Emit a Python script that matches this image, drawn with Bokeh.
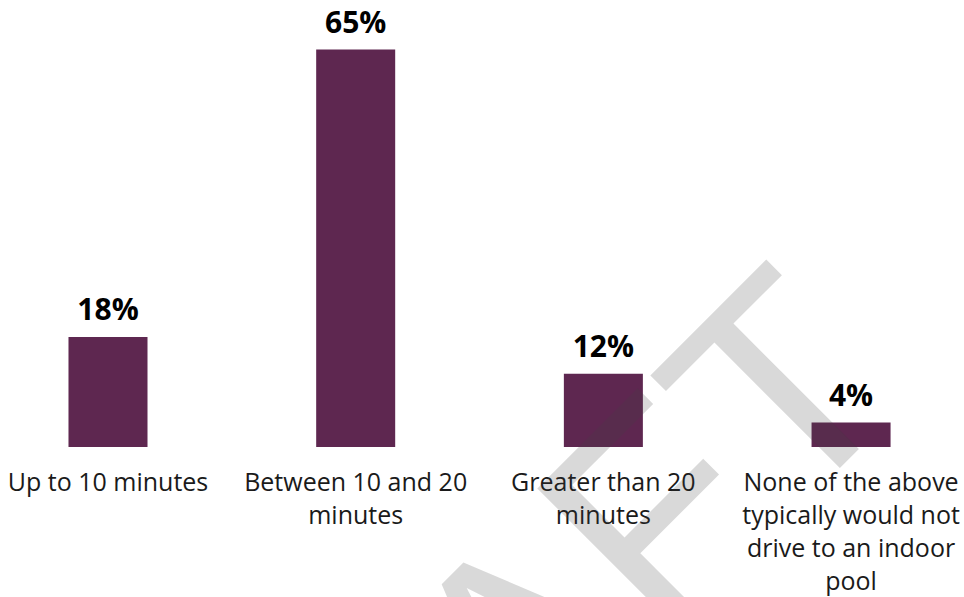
from bokeh.plotting import figure
from bokeh.models import ColumnDataSource, Range1d, Label
from bokeh.core.properties import value
from bokeh.embed import file_html
from bokeh.resources import INLINE

categories = [
    "Up to 10 minutes",
    "Between 10 and 20 minutes",
    "Greater than 20 minutes",
    "None of the above typically would not drive to an indoor pool",
]
tick_labels = [
    "Up to 10 minutes",
    "Between 10 and 20\nminutes",
    "Greater than 20\nminutes",
    "None of the above\ntypically would not\ndrive to an indoor\npool",
]
values = [18, 65, 12, 4]
value_labels = ["18%", "65%", "12%", "4%"]

positions = list(range(len(categories)))
src = ColumnDataSource(dict(
    x=positions, top=values, lab=value_labels, cat=tick_labels,
    zero=[0] * len(values),
))

p = figure(width=964, height=597, output_backend="svg", toolbar_location=None,
           x_range=Range1d(-0.434, 3.458), y_range=Range1d(-24.61, 73.02),
           x_axis_location=None, y_axis_location=None, min_border=0)
p.outline_line_color = None
p.grid.visible = False
p.background_fill_color = "white"
p.border_fill_color = "white"

p.vbar(x="x", top="top", bottom=0, width=0.319, source=src,
       fill_color="#5E2750", line_color=None)

p.text(x="x", y="top", text="lab", source=src, text_align="center",
       text_baseline="alphabetic", y_offset=-28,
       text_font=value("Open Sans"), text_font_style="bold",
       text_font_size="30px", text_color="#000000")

p.text(x="x", y="zero", text="cat", source=src, text_align="center",
       text_baseline="top", y_offset=17, text_line_height=0.97,
       text_font=value("Open Sans"), text_font_size="25px",
       text_color="#1a1a1a")

wm = Label(x=2.958, y=20.04, text="DRAFT", angle=45, angle_units="deg",
           text_align="right", text_baseline="alphabetic",
           text_font="Liberation Sans", text_font_size="290px",
           text_color="#404040", text_alpha=0.2)
p.add_layout(wm)

open("out.html", "w").write(file_html(p, INLINE))
